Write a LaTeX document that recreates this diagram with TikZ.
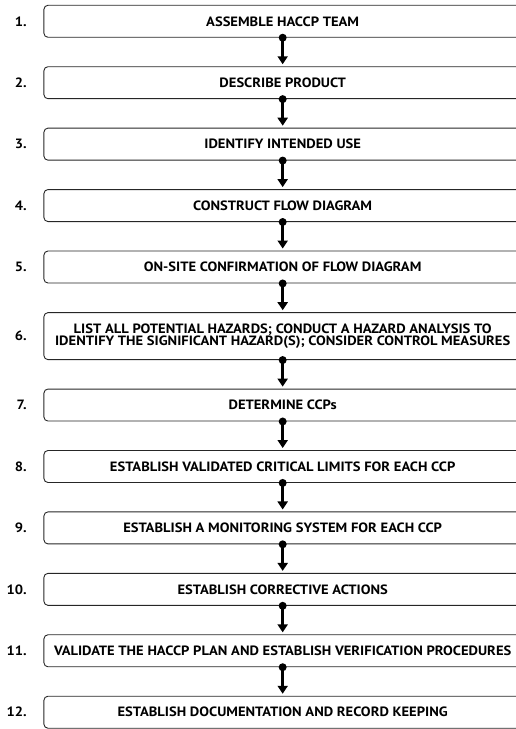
\documentclass[tikz,border=0pt]{standalone}
\usepackage{fontspec}
\setmainfont{PT Sans}[FakeStretch=1.08]
\usetikzlibrary{arrows.meta}

\tikzset{
  stepbox/.style={draw=black!85, line width=0.9pt, rounded corners=4pt,
    minimum width=16.8cm, minimum height=1.125cm, inner sep=0pt, align=center,
    font=\bfseries\fontsize{13.5}{10.7}\selectfont},
  numlabel/.style={anchor=east, inner sep=0pt, font=\bfseries\fontsize{13.5}{13.5}\selectfont},
  flowarrow/.style={line width=3pt, -{Triangle[width=10pt,length=8pt]}, shorten >=2pt},
}

\begin{document}
\begin{tikzpicture}
\useasboundingbox (0,0) rectangle (18.15,25.65);
\clip (0,0) rectangle (18.15,25.65);

% steps
\node[stepbox] (s1) at (9.946,24.901) {ASSEMBLE HACCP TEAM};
\node[stepbox] (s2) at (9.946,22.740) {DESCRIBE PRODUCT};
\node[stepbox] (s3) at (9.946,20.578) {IDENTIFY INTENDED USE};
\node[stepbox] (s4) at (9.946,18.417) {CONSTRUCT FLOW DIAGRAM};
\node[stepbox] (s5) at (9.946,16.255) {ON-SITE CONFIRMATION OF FLOW DIAGRAM};
\node[stepbox, minimum height=1.652cm] (s6) at (9.946,13.823)
  {LIST ALL POTENTIAL HAZARDS; CONDUCT A HAZARD ANALYSIS TO\\
   IDENTIFY THE SIGNIFICANT HAZARD(S); CONSIDER CONTROL MEASURES};
\node[stepbox] (s7) at (9.946,11.398) {DETERMINE CCPs};
\node[stepbox] (s8) at (9.946,9.236) {ESTABLISH VALIDATED CRITICAL LIMITS FOR EACH CCP};
\node[stepbox] (s9) at (9.946,7.075) {ESTABLISH A MONITORING SYSTEM FOR EACH CCP};
\node[stepbox] (s10) at (9.946,4.913) {ESTABLISH CORRECTIVE ACTIONS};
\node[stepbox] (s11) at (9.946,2.752) {VALIDATE THE HACCP PLAN AND ESTABLISH VERIFICATION PROCEDURES};
\node[stepbox] (s12) at (9.946,0.590) {ESTABLISH DOCUMENTATION AND RECORD KEEPING};

% numbers
\node[numlabel] (n1) at (0.95,24.901) {1.};
\node[numlabel] (n2) at (0.95,22.740) {2.};
\node[numlabel] (n3) at (0.95,20.578) {3.};
\node[numlabel] (n4) at (0.95,18.417) {4.};
\node[numlabel] (n5) at (0.95,16.255) {5.};
\node[numlabel] (n6) at (0.95,13.823) {6.};
\node[numlabel] (n7) at (0.95,11.398) {7.};
\node[numlabel] (n8) at (0.95,9.236) {8.};
\node[numlabel] (n9) at (0.95,7.075) {9.};
\node[numlabel] (n10) at (0.95,4.913) {10.};
\node[numlabel] (n11) at (0.95,2.752) {11.};
\node[numlabel] (n12) at (0.95,0.590) {12.};

% arrows
\foreach \a/\b in {s1/s2,s2/s3,s3/s4,s4/s5,s5/s6,s6/s7,s7/s8,s8/s9,s9/s10,s10/s11,s11/s12}{
  \fill (\a.south) circle (4pt);
  \draw[flowarrow] (\a.south) -- (\b.north);
}

\end{tikzpicture}
\end{document}
